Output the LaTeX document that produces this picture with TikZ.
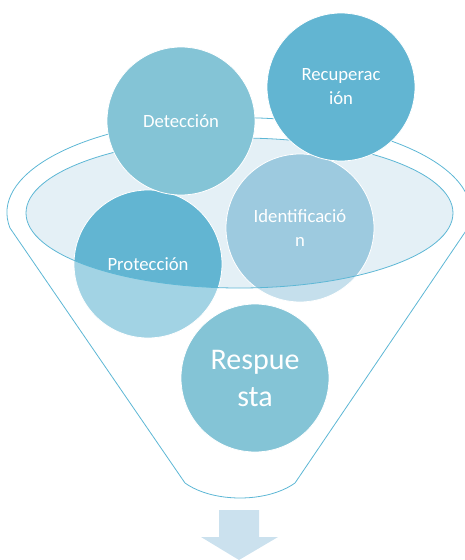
\documentclass[tikz,border=0pt]{standalone}
\usepackage{fontspec}
\setsansfont{Carlito}
\usepackage{xcolor}
\definecolor{rim}{HTML}{5DB7D5}
\definecolor{mouth}{HTML}{E4F0F6}
\definecolor{midblue}{HTML}{84C4D6}
\definecolor{deepblue}{HTML}{62B5D2}
\definecolor{paleblue}{HTML}{9DCADF}
\definecolor{arrowblue}{HTML}{CBE1EE}
\usetikzlibrary{calc}

\begin{document}
\begin{tikzpicture}[x=1pt, y=-1pt, font=\sffamily,
  ball/.style={circle, draw=white, line width=0.8pt, minimum size=148pt, inner sep=0pt,
    text=white, align=center, font=\sffamily\fontsize{18.7}{24}\selectfont},
  rimline/.style={draw=rim, line width=0.8pt}]
  \useasboundingbox (0,0) rectangle (465,560);
  % mouth of the funnel
  \fill[mouth] (239.5,213) ellipse[x radius=213.5, y radius=75];
  \node[ball, fill=deepblue] (prot)  at (148,264) {Protección};
  \node[ball, fill=paleblue] (ident) at (300,228) {Identificació\\n};
  % glass below the mouth lightens what sits inside
  \begin{scope}
    \clip (7,213) -- (471,213) -- (468,228) -- (295,483) -- (185,483) -- (10,228) -- cycle;
    \fill[white, opacity=0.41, even odd rule] (0,0) rectangle (465,560)
      (239.5,213) ellipse[x radius=213.5, y radius=75];
  \end{scope}
  \draw[rimline] (10,228) arc[start angle=170.7, end angle=369.3, x radius=232, y radius=95]
    -- (295,483) .. controls (267,503) and (213,503) .. (185,483) -- cycle;
  \draw[rimline] (239.5,213) ellipse[x radius=213.5, y radius=75];
  \node[ball, fill=midblue]  (det)  at (181,121) {Detección};
  \node[ball, fill=deepblue] (recu) at (341,87)  {Recuperac\\ión};
  \node[ball, fill=midblue, font=\sffamily\fontsize{30}{37}\selectfont] (resp) at (255,378) {Respue\\sta};
  % outgoing arrow
  \fill[arrowblue] (219,510) -- (259,510) -- (259,537) -- (278,537) -- (239,560)
    -- (201,537) -- (219,537) -- cycle;
\end{tikzpicture}
\end{document}
